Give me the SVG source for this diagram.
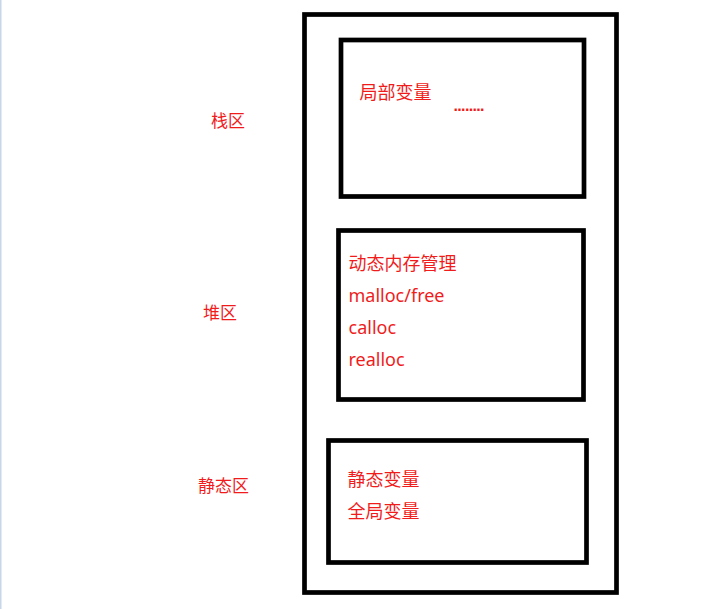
<svg xmlns="http://www.w3.org/2000/svg" width="715" height="609" viewBox="0 0 715 609">
<style>
.box{fill:none;stroke:#000;stroke-width:4.7}
.t{font-family:"Noto Sans","Noto Sans CJK SC",sans-serif;font-size:18px;fill:#f01c1c}
.lbl{font-family:"Noto Sans CJK SC",sans-serif;font-size:17px;fill:#f01c1c}
</style>
<rect x="0" y="0" width="715" height="609" fill="#fff"/>
<rect x="0" y="0" width="1.5" height="609" fill="#c7d6ea"/>
<g id="memory">
<rect class="box" x="304.5" y="14.5" width="312" height="578"/>
</g>
<g id="stack">
<rect class="box" x="341" y="40" width="243" height="156.5"/>
<text class="t" x="359.5" y="99">局部变量</text>
<text x="453.5" y="110.5" font-family="Liberation Sans,sans-serif" font-weight="bold" font-size="16" fill="#f01c1c" textLength="31" lengthAdjust="spacing">........</text>
</g>
<g id="heap">
<rect class="box" x="338.5" y="230.5" width="245" height="169"/>
<text class="t" x="348.5" y="269.5">动态内存管理</text>
<text class="t" x="348.5" y="301.5">malloc/free</text>
<text class="t" x="348.5" y="333.5">calloc</text>
<text class="t" x="348.5" y="365.5">realloc</text>
</g>
<g id="static">
<rect class="box" x="328.5" y="440.5" width="258" height="122"/>
<text class="t" x="347.5" y="486">静态变量</text>
<text class="t" x="347.5" y="518">全局变量</text>
</g>
<g id="labels">
<text class="lbl" x="211" y="127">栈区</text>
<text class="lbl" x="203" y="319">堆区</text>
<text class="lbl" x="198" y="492">静态区</text>
</g>
<g id="connectors"></g>
</svg>
